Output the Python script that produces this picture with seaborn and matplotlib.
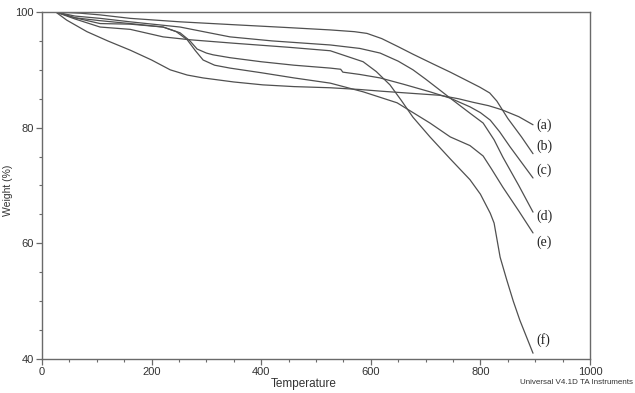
import numpy as np
import pandas as pd
import matplotlib
matplotlib.use("Agg")
import matplotlib.pyplot as plt
import seaborn as sns
from matplotlib.ticker import MultipleLocator

# ---- data ----
a_T = [25, 45, 82, 120, 161, 200, 234, 265, 294, 350, 403, 460, 526, 580, 620, 680, 726, 760, 786, 815, 839, 870, 896]
a_W = [100, 98.6, 96.6, 95.0, 93.4, 91.7, 90.0, 89.1, 88.6, 87.9, 87.4, 87.1, 86.9, 86.6, 86.3, 85.9, 85.6, 85.0, 84.4, 83.8, 83.1, 81.9, 80.5]

b_T = [25, 69, 106, 161, 252, 350, 450, 526, 570, 593, 620, 650, 677, 714, 745, 770, 799, 817, 830, 850, 875, 896]
b_W = [100, 99.8, 99.5, 98.9, 98.3, 97.8, 97.3, 96.9, 96.6, 96.3, 95.4, 94.0, 92.7, 91.0, 89.6, 88.4, 87.0, 86.0, 84.6, 81.6, 78.4, 75.5]

c_T = [25, 60, 106, 161, 221, 252, 270, 283, 300, 312, 343, 400, 460, 526, 545, 549, 580, 617, 660, 708, 745, 781, 800, 818, 835, 854, 875, 896]
c_W = [100, 99.0, 98.5, 98.0, 97.4, 96.4, 95.0, 93.6, 92.9, 92.6, 92.1, 91.4, 90.8, 90.3, 90.1, 89.6, 89.2, 88.6, 87.5, 86.2, 85.1, 83.6, 82.6, 81.3, 79.3, 76.7, 74.0, 71.3]

d_T = [25, 60, 106, 161, 252, 300, 343, 420, 526, 580, 617, 650, 677, 700, 726, 745, 781, 805, 825, 841, 870, 896]
d_W = [100, 99.3, 98.9, 98.3, 97.4, 96.5, 95.7, 95.0, 94.3, 93.7, 92.9, 91.5, 90.0, 88.4, 86.5, 85.1, 82.5, 80.8, 77.9, 74.9, 70.0, 65.4]

e_T = [25, 60, 106, 161, 221, 245, 265, 280, 294, 315, 343, 400, 460, 526, 586, 648, 708, 745, 781, 805, 820, 841, 870, 896]
e_W = [100, 99.0, 98.0, 97.9, 97.4, 96.6, 95.2, 93.3, 91.7, 90.8, 90.3, 89.5, 88.6, 87.7, 86.2, 84.3, 80.8, 78.4, 76.9, 75.1, 72.9, 69.7, 65.6, 61.8]

f_T = [25, 60, 106, 161, 221, 270, 350, 450, 526, 586, 610, 635, 655, 677, 708, 745, 781, 800, 818, 825, 836, 848, 860, 872, 896]
f_W = [100, 98.8, 97.4, 97.0, 95.7, 95.2, 94.6, 93.9, 93.3, 91.4, 89.7, 87.4, 84.8, 81.8, 78.4, 74.6, 71.0, 68.5, 65.2, 63.5, 57.6, 53.7, 50.0, 46.7, 41.0]

sample_names = ["(a)", "(b)", "(c)", "(d)", "(e)", "(f)"]
label_W = [80.5, 76.7, 72.7, 64.6, 60.2, 43.3]

x_ticks = [0, 200, 400, 600, 800, 1000]
y_ticks = [40, 60, 80, 100]

series = [(a_T, a_W), (b_T, b_W), (c_T, c_W), (d_T, d_W), (e_T, e_W), (f_T, f_W)]
frames = []
for name, (T, W) in zip(sample_names, series):
    frames.append(pd.DataFrame({"Temperature": T, "Weight": W, "sample": name}))
df = pd.concat(frames, ignore_index=True)

# ---- style ----
sns.set_style("ticks")
plt.rcParams["font.family"] = ["Liberation Sans", "DejaVu Sans"]

line_col = "#505050"
axis_col = "#6a6a6a"
text_col = "#333333"

fig = plt.figure(figsize=(6.35, 3.93), dpi=100)
ax = fig.add_axes([42 / 635, 1 - 359 / 393, (590 - 42) / 635, (359 - 12) / 393])

sns.lineplot(data=df, x="Temperature", y="Weight", hue="sample",
             palette={n: line_col for n in sample_names}, estimator=None,
             sort=False, linewidth=0.9, legend=False, ax=ax)

ax.set_xlim(0, 1000)
ax.set_ylim(40, 100)
ax.set_xticks(x_ticks)
ax.set_yticks(y_ticks)
ax.xaxis.set_minor_locator(MultipleLocator(50))
ax.yaxis.set_minor_locator(MultipleLocator(5))
ax.tick_params(which="major", direction="out", length=4, width=0.9,
               color=axis_col, labelsize=8, labelcolor=text_col, pad=2)
ax.tick_params(which="minor", direction="out", length=2.5, width=0.8, color=axis_col)
for s in ax.spines.values():
    s.set_color(axis_col)
    s.set_linewidth(1.0)

ax.set_xlabel("Temperature", fontsize=8.5, color=text_col)
ax.xaxis.set_label_coords(0.477, -0.055)
ax.set_ylabel("")

for name, yv in zip(sample_names, label_W):
    ax.text(903, yv, name, family="Liberation Serif", fontsize=10,
            color="#222222", va="center", ha="left")

fig.text(8 / 635, 1 - 190 / 393, "Weight (%)", rotation=90, ha="center", va="center",
         fontsize=7.5, color=text_col)
fig.text(633 / 635, 1 - 382 / 393, "Universal V4.1D TA Instruments",
         fontsize=5.8, color=text_col, ha="right", va="center")

fig.savefig("out.png", dpi=100, facecolor="white")
